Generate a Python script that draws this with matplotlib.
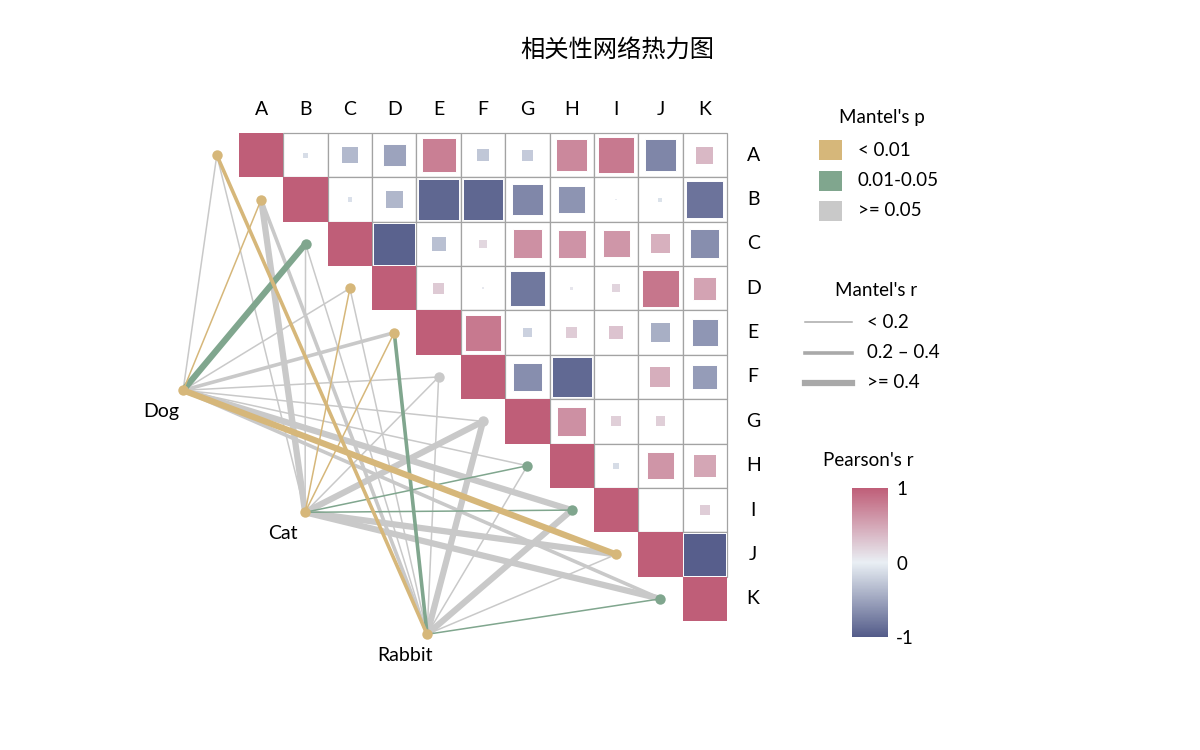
import numpy as np
import matplotlib
matplotlib.use('Agg')
import matplotlib.pyplot as plt
from matplotlib.patches import Rectangle
from matplotlib.lines import Line2D
from matplotlib.colors import LinearSegmentedColormap, Normalize
from matplotlib.colorbar import ColorbarBase

plt.rcParams['font.family'] = ['Lato', 'Noto Sans CJK SC', 'DejaVu Sans']

labels = ['A', 'B', 'C', 'D', 'E', 'F', 'G', 'H', 'I', 'J', 'K']

# Pearson's r, upper triangle: row i holds columns i..K
corr_rows = [
    [1, -0.12, -0.36, -0.51, 0.77, -0.27, -0.25, 0.71, 0.81, -0.71, 0.38],
    [1, -0.10, -0.38, -0.92, -0.92, -0.70, -0.61, 0.03, -0.09, -0.83],
    [1, -0.95, -0.32, 0.17, 0.65, 0.63, 0.61, 0.43, -0.65],
    [1, 0.25, 0.05, -0.80, 0.07, 0.18, 0.83, 0.52],
    [1, 0.81, -0.20, 0.24, 0.30, -0.43, -0.60],
    [1, -0.65, -0.90, 0.02, 0.45, -0.56],
    [1, 0.65, 0.22, 0.22, 0.0],
    [1, -0.13, 0.62, 0.50],
    [1, 0.01, 0.23],
    [1, -0.97],
    [1],
]

species = ['Dog', 'Cat', 'Rabbit']
# Mantel's r / p of each species against A..K
dog_r = [0.10, 0.15, 0.45, 0.12, 0.28, 0.10, 0.08, 0.13, 0.42, 0.50, 0.30]
dog_p = [0.30, 0.005, 0.03, 0.20, 0.08, 0.40, 0.50, 0.30, 0.07, 0.001, 0.10]
cat_r = [0.10, 0.45, 0.12, 0.15, 0.14, 0.11, 0.44, 0.16, 0.18, 0.41, 0.43]
cat_p = [0.50, 0.06, 0.30, 0.008, 0.006, 0.40, 0.09, 0.02, 0.04, 0.07, 0.08]
rabbit_r = [0.30, 0.32, 0.10, 0.12, 0.25, 0.09, 0.46, 0.11, 0.40, 0.10, 0.15]
rabbit_p = [0.004, 0.10, 0.30, 0.40, 0.03, 0.50, 0.07, 0.30, 0.06, 0.20, 0.02]
mantel_r = [dog_r, cat_r, rabbit_r]
mantel_p = [dog_p, cat_p, rabbit_p]

p_labels = ['< 0.01', '0.01-0.05', '>= 0.05']
p_colors = ['#d6b77a', '#80a68e', '#c9c9c9']
r_labels = ['< 0.2', '0.2 \u2013 0.4', '>= 0.4']
r_widths = [1.1, 2.6, 4.5]


def p_bin(p):
    if p < 0.01:
        return 0
    if p < 0.05:
        return 1
    return 2


def r_bin(r):
    if r < 0.2:
        return 0
    if r < 0.4:
        return 1
    return 2


cmap = LinearSegmentedColormap.from_list('pr', ['#535b89', '#e9eff4', '#bf5e78'])
norm = Normalize(-1, 1)

fig = plt.figure(figsize=(12, 7.5), dpi=100)
ax = fig.add_axes([0, 0, 1, 1])
# one unit = one heatmap cell (about 44.4 px)
s = 488 / 11
x0 = -0.5 - 239 / s
y0 = -0.5 - 133 / s
ax.set_xlim(x0, x0 + 1200 / s)
ax.set_ylim(y0 + 750 / s, y0)
ax.axis('off')

n = len(labels)
# grid cells
for i in range(n):
    for k in range(1, len(corr_rows[i])):
        j = i + k
        ax.add_patch(Rectangle((j - 0.5, i - 0.5), 1, 1, facecolor='white',
                               edgecolor='#a3a3a3', lw=0.9, zorder=1))
# squares
for i in range(n):
    for k, r in enumerate(corr_rows[i]):
        j = i + k
        side = abs(r)
        if side == 0:
            continue
        ec = 'white' if (k > 0 and side > 0.5) else 'none'
        ax.add_patch(Rectangle((j - side / 2, i - side / 2), side, side,
                               facecolor=cmap(norm(r)), edgecolor=ec, lw=0.7, zorder=2))

for j, lab in enumerate(labels):
    ax.text(j, -1.02, lab, ha='center', va='center', fontsize=14)
    ax.text(11.09, j, lab, ha='center', va='center', fontsize=14)

# network
node_xy = [(i - 1, i) for i in range(n)]
src_xy = []
for k in range(len(species)):
    sx = -1.76 + 2.75 * k
    src_xy.append((sx, sx + 7.06))

edges = []
for k in range(len(species)):
    for i in range(n):
        edges.append((k, i, mantel_r[k][i], mantel_p[k][i]))
# grey first, then green, then tan on top
edges.sort(key=lambda e: (-p_bin(e[3]), r_bin(e[2])))
for k, i, r, p in edges:
    (sx, sy), (tx, ty) = src_xy[k], node_xy[i]
    ax.plot([sx, tx], [sy, ty], color=p_colors[p_bin(p)], lw=r_widths[r_bin(r)],
            solid_capstyle='round', zorder=3 + (2 - p_bin(p)) * 0.1)

for i in range(n):
    best = min(p_bin(mantel_p[k][i]) for k in range(len(species)))
    ax.plot(*node_xy[i], 'o', ms=7.5, color=p_colors[best], mec='none', zorder=5)
for k, name in enumerate(species):
    sx, sy = src_xy[k]
    best = min(p_bin(p) for p in mantel_p[k])
    ax.plot(sx, sy, 'o', ms=7.5, color=p_colors[best], mec='none', zorder=5)
    ax.text(sx - 0.5, sy + 0.47, name, ha='center', va='center', fontsize=14)

fig.text(617 / 1200, 1 - 50 / 750, '相关性网络热力图', ha='center', va='center',
         fontsize=17.5, family=['Noto Sans CJK SC', 'DejaVu Sans'])

# legends (pixel coordinates)
lax = fig.add_axes([0, 0, 1, 1])
lax.set_xlim(0, 1200)
lax.set_ylim(750, 0)
lax.axis('off')

lax.text(882, 118, "Mantel's p", ha='center', va='center', fontsize=13.5)
for m, (lab, col) in enumerate(zip(p_labels, p_colors)):
    yc = 150 + m * 30.5
    lax.add_patch(Rectangle((819, yc - 10), 23, 20, facecolor=col, edgecolor='none'))
    lax.text(858, yc, lab, ha='left', va='center', fontsize=13.5)

lax.text(876, 291, "Mantel's r", ha='center', va='center', fontsize=13.5)
for m, (lab, w) in enumerate(zip(r_labels, r_widths)):
    yc = 322 + m * 30.5
    lax.add_line(Line2D([805, 852], [yc, yc], color='#a9a9a9', lw=w))
    lax.text(867, yc, lab, ha='left', va='center', fontsize=13.5)

lax.text(868, 460, "Pearson's r", ha='center', va='center', fontsize=13.5)
cax = fig.add_axes([852 / 1200, 1 - 637 / 750, 36 / 1200, 149 / 750])
cb = ColorbarBase(cax, cmap=cmap, norm=norm, ticks=[-1, 0, 1])
cb.outline.set_visible(False)
cb.ax.tick_params(length=0, labelsize=13.5, pad=6)
cb.ax.set_yticklabels(['-1', '0', '1'])

fig.savefig('out.png', dpi=100)
